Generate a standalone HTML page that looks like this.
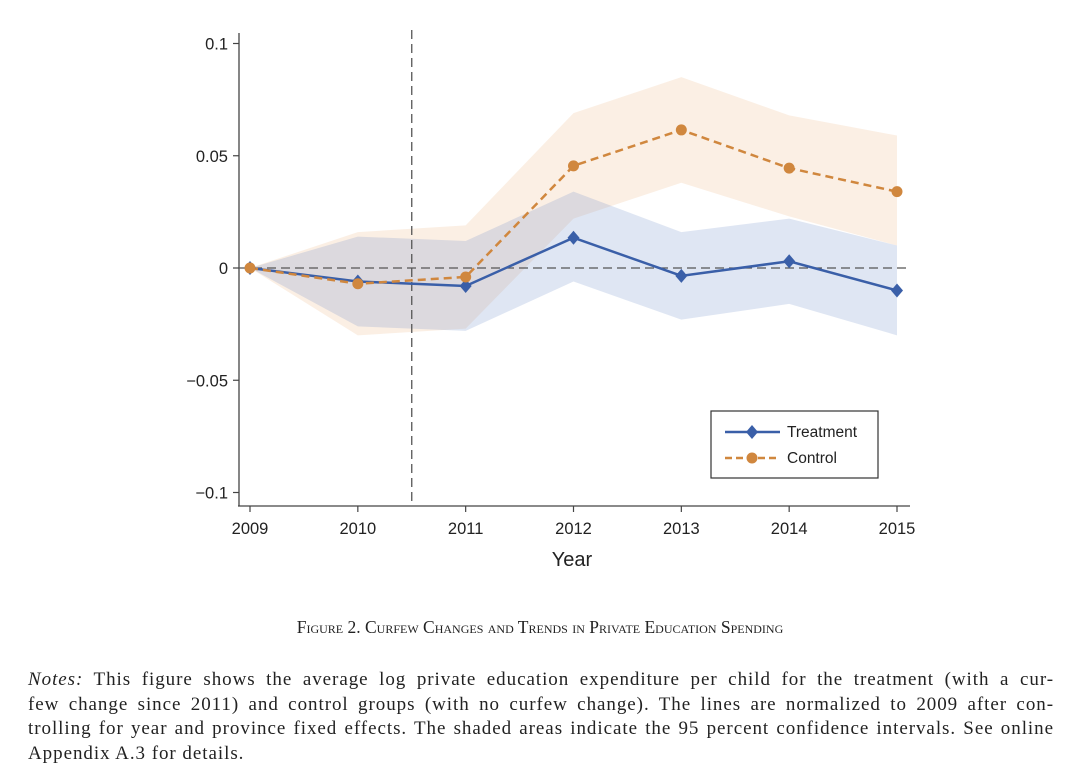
<!DOCTYPE html>
<html><head><meta charset="utf-8"><style>
body{margin:0;background:#fff;width:1080px;height:780px;overflow:hidden;position:relative}
svg{position:absolute;left:0;top:0}
.cap{position:absolute;left:0;width:1080px;top:617px;text-align:center;font-family:"Liberation Serif",serif;font-size:17.5px;font-variant:small-caps;color:#222}
.notes{position:absolute;left:28px;width:1026px;top:668px;font-family:"Liberation Serif",serif;font-size:19px;letter-spacing:0.95px;line-height:24.6px;color:#222}
.ln{display:block;text-align:justify;text-align-last:justify;white-space:nowrap}
.ln.last{text-align-last:left}
</style></head><body>
<svg width="1080" height="600" font-family="Liberation Sans, sans-serif">
<g id="plot"></g>
</svg>
<div class="cap">Figure 2. Curfew Changes and Trends in Private Education Spending</div>
<div class="notes">
<span class="ln"><i>Notes:</i> This figure shows the average log private education expenditure per child for the treatment (with a cur-</span>
<span class="ln">few change since 2011) and control groups (with no curfew change). The lines are normalized to 2009 after con-</span>
<span class="ln">trolling for year and province fixed effects. The shaded areas indicate the 95 percent confidence intervals. See online</span>
<span class="ln last">Appendix A.3 for details.</span>
</div>
<script>
const years=[2009,2010,2011,2012,2013,2014,2015];
const treat=[0,-0.006,-0.008,0.0135,-0.0035,0.003,-0.010];
const treatLo=[0,-0.026,-0.028,-0.006,-0.023,-0.016,-0.030];
const treatHi=[0,0.014,0.012,0.034,0.016,0.022,0.010];
const ctrl=[0,-0.007,-0.004,0.0455,0.0615,0.0445,0.034];
const ctrlLo=[0,-0.030,-0.027,0.022,0.038,0.023,0.010];
const ctrlHi=[0,0.016,0.019,0.069,0.085,0.068,0.059];
const yTicks=[0.1,0.05,0,-0.05,-0.1];
const yLabels=["0.1","0.05","0","\u22120.05","\u22120.1"];
const X=v=>250+(v-2009)*(897-250)/6;
const Y=v=>268-v*2245;
const g=document.getElementById('plot');
const NS='http://www.w3.org/2000/svg';
function mk(t,a,p){const e=document.createElementNS(NS,t);for(const k in a)e.setAttribute(k,a[k]);(p||g).appendChild(e);return e;}
function band(lo,hi,fill,name){
 let d='M'+years.map((y,i)=>X(y)+','+Y(hi[i])).join('L');
 d+='L'+years.map((y,i)=>X(y)+','+Y(lo[i])).reverse().join('L')+'Z';
 const e=mk('path',{d:d,fill:fill});
 
 
}
band(ctrlLo,ctrlHi,'rgba(236,180,130,0.22)','control-ci-band');
band(treatLo,treatHi,'rgba(110,140,200,0.22)','treatment-ci-band');
let ax=mk('line',{x1:239,y1:33,x2:239,y2:506,stroke:'#444','stroke-width':1.3});

ax=mk('line',{x1:238,y1:506,x2:910,y2:506,stroke:'#444','stroke-width':1.3});

yTicks.forEach((v,i)=>{
 mk('line',{x1:233,y1:Y(v),x2:239,y2:Y(v),stroke:'#444','stroke-width':1.2});
 const t=mk('text',{x:228,y:Y(v)+6,'text-anchor':'end','font-size':16.5,fill:'#222'});
 t.textContent=yLabels[i];
 
 
});
years.forEach(y=>{
 mk('line',{x1:X(y),y1:506,x2:X(y),y2:512,stroke:'#444','stroke-width':1.2});
 const t=mk('text',{x:X(y),y:534,'text-anchor':'middle','font-size':16.5,fill:'#222'});
 t.textContent=y;
 
 
});
let t=mk('text',{x:572,y:566,'text-anchor':'middle','font-size':20,fill:'#222'});t.textContent='Year';

let r=mk('line',{x1:239,y1:Y(0),x2:910,y2:Y(0),stroke:'#555','stroke-width':1.3,'stroke-dasharray':'9,5'});

r=mk('line',{x1:X(2010.5),y1:30,x2:X(2010.5),y2:506,stroke:'#555','stroke-width':1.3,'stroke-dasharray':'9,5'});

let l=mk('polyline',{points:years.map((y,i)=>X(y)+','+Y(treat[i])).join(' '),fill:'none',stroke:'#3a5fa8','stroke-width':2.5});

l=mk('polyline',{points:years.map((y,i)=>X(y)+','+Y(ctrl[i])).join(' '),fill:'none',stroke:'#d0873e','stroke-width':2.5,'stroke-dasharray':'8,5'});

years.forEach((y,i)=>{
 const cx=X(y),cy=Y(treat[i]);
 const p=mk('polygon',{points:`${cx},${cy-7} ${cx+6},${cy} ${cx},${cy+7} ${cx-6},${cy}`,fill:'#3a5fa8'});
 
 
});
years.forEach((y,i)=>{
 const c=mk('circle',{cx:X(y),cy:Y(ctrl[i]),r:5.5,fill:'#d0873e'});
 
 
});
const lg=mk('g',{});

mk('rect',{x:711,y:411,width:167,height:67,fill:'#fff',stroke:'#333','stroke-width':1.2},lg);
mk('line',{x1:725,y1:432,x2:780,y2:432,stroke:'#3a5fa8','stroke-width':2.5},lg);
mk('polygon',{points:'752,425 758,432 752,439 746,432',fill:'#3a5fa8'},lg);
t=mk('text',{x:787,y:437,'font-size':15.5,fill:'#222'},lg);t.textContent='Treatment';

mk('line',{x1:725,y1:458,x2:780,y2:458,stroke:'#d0873e','stroke-width':2.5,'stroke-dasharray':'7,4'},lg);
mk('circle',{cx:752,cy:458,r:5.5,fill:'#d0873e'},lg);
t=mk('text',{x:787,y:463,'font-size':15.5,fill:'#222'},lg);t.textContent='Control';

</script>
</body></html>
